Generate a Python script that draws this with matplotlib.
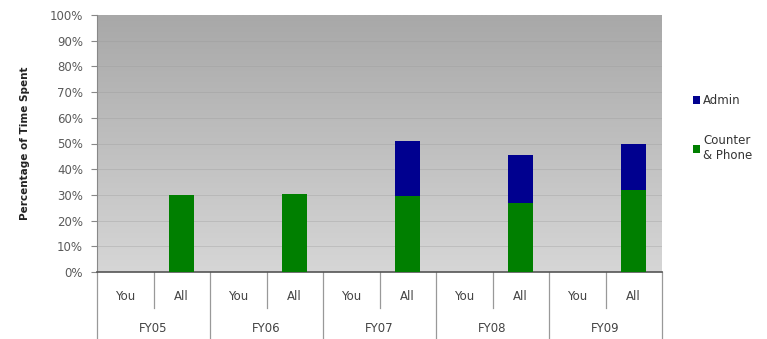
import numpy as np
import matplotlib
matplotlib.use("Agg")
import matplotlib.pyplot as plt
from matplotlib.lines import Line2D

years = ["FY05", "FY06", "FY07", "FY08", "FY09"]
groups = ["You", "All"]
# Percent of time spent, one value per (year, group) slot
counter_phone = [0, 30, 0, 30.5, 0, 29.5, 0, 27, 0, 32]
admin = [0, 0, 0, 0, 0, 21.5, 0, 18.5, 0, 18]
yticks = list(range(0, 101, 10))

plt.rcParams["font.family"] = ["DejaVu Sans"]

fig = plt.figure(figsize=(7.67, 3.39), dpi=100)
ax = fig.add_axes([97 / 767, 67 / 339, 565 / 767, 257 / 339])

n = len(counter_phone)
x = np.arange(n)
ax.set_xlim(-0.5, n - 0.5)
ax.set_ylim(0, 100)

# gradient plot background: darker at top, lighter toward the bottom
grad = np.linspace(0, 1, 256).reshape(-1, 1)
cmap = matplotlib.colors.LinearSegmentedColormap.from_list("bg", ["#d6d6d6", "#a8a8a8"])
ax.imshow(grad, aspect="auto", cmap=cmap, extent=(-0.5, n - 0.5, 0, 100),
          origin="lower", zorder=0)

for y in yticks[1:-1]:
    ax.axhline(y, color="#9a9a9a", lw=0.6, alpha=0.4, zorder=1)

green = "#007f00"
blue = "#00008f"
ax.bar(x, counter_phone, width=0.45, color=green, zorder=3, label="Counter\n& Phone")
ax.bar(x, admin, width=0.45, bottom=counter_phone, color=blue, zorder=3, label="Admin")

ax.set_yticks(yticks)
ax.set_yticklabels([f"{v}%" for v in yticks], color="#5a5a5a", fontsize=8.5)
ax.tick_params(axis="y", length=4, color="#888888", pad=6)
ax.set_xticks([])
for side in ("top", "right"):
    ax.spines[side].set_visible(False)
ax.spines["left"].set_color("#888888")
ax.spines["bottom"].set_color("#555555")
ax.spines["bottom"].set_linewidth(1.2)

ax.set_ylabel("Percentage of Time Spent", fontsize=7.5, fontweight="bold",
              color="#222222", labelpad=14)

# two-level category axis below the plot
trans = ax.get_xaxis_transform()
px = 1 / 257  # one pixel in axes-fraction units (vertical)
for i in range(n):
    ax.text(i, -24 * px, groups[i % 2], transform=trans, ha="center", va="center",
            fontsize=8.5, color="#444444")
for j, yr in enumerate(years):
    ax.text(2 * j + 0.5, -57 * px, yr, transform=trans, ha="center", va="center",
            fontsize=8.5, color="#444444")
for i in range(n + 1):
    xb = i - 0.5
    if i % 2 == 0:
        y0 = -67 * px
    else:
        y0 = -36 * px
    ax.add_line(Line2D([xb, xb], [0, y0], transform=trans, color="#999999",
                       lw=0.9, clip_on=False))

# legend
handles, labels = ax.get_legend_handles_labels()
leg = fig.legend(handles[::-1], labels[::-1], loc="center left",
                 bbox_to_anchor=(682 / 767, 1 - 128 / 339), frameon=False,
                 fontsize=8.5, handlelength=0.6, handleheight=0.6,
                 handletextpad=0.3, labelspacing=2.3)
for t in leg.get_texts():
    t.set_color("#333333")

fig.savefig("out.png", dpi=100)
